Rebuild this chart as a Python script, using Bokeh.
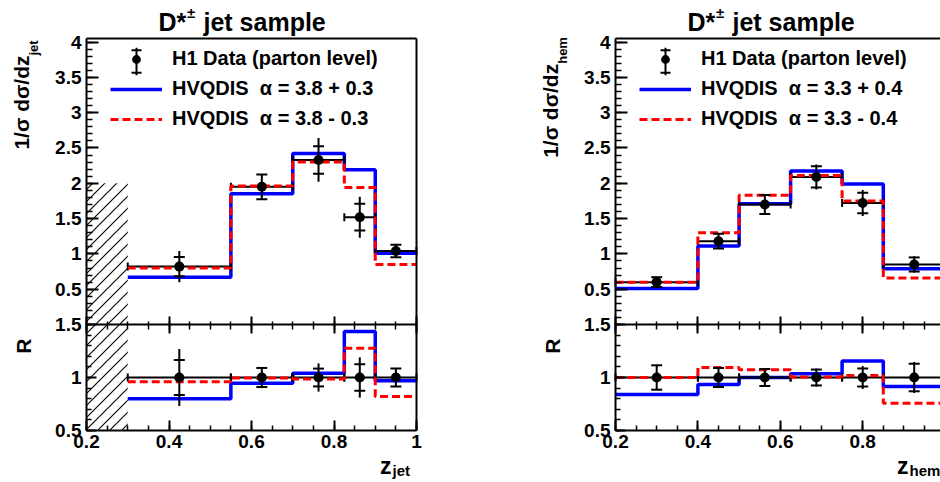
import base64
import numpy as np
from bokeh.plotting import figure
from bokeh.models import (Range1d, LinearAxis, FixedTicker, CustomJSTickFormatter,
                          Label, Legend, LegendItem, Arrow, ImageURLTexture)
from bokeh.core.properties import value
from bokeh.layouts import row
from bokeh.embed import file_html
from bokeh.resources import INLINE

# ---------------- z_jet panel data ----------------
jet_edges = [0.3, 0.55, 0.7, 0.825, 0.9, 1.0]
jet_data = [0.82, 1.95, 2.33, 1.52, 1.04]
jet_stat = [0.135, 0.175, 0.195, 0.19, 0.088]
jet_tot = [0.22, 0.175, 0.31, 0.29, 0.088]
jet_hvq_up = [0.67, 1.85, 2.42, 2.19, 1.01]      # alpha = 3.8 + 0.3
jet_hvq_dn = [0.80, 1.96, 2.30, 1.94, 0.85]      # alpha = 3.8 - 0.3
jet_r_up = [0.80, 0.945, 1.04, 1.435, 0.97]
jet_r_dn = [0.96, 0.995, 0.985, 1.275, 0.82]
jet_r_stat = [0.165, 0.09, 0.084, 0.125, 0.085]
jet_r_tot = [0.27, 0.09, 0.133, 0.19, 0.085]
jet_cut_lo = [0.2]
jet_cut_hi = [0.3]
jet_cut_top = [2.0]

# ---------------- z_hem panel data ----------------
hem_edges = [0.2, 0.4, 0.5, 0.625, 0.75, 0.85, 1.0]
hem_data = [0.60, 1.18, 1.70, 2.09, 1.72, 0.85]
hem_stat = [0.07, 0.105, 0.135, 0.15, 0.145, 0.10]
hem_tot = [0.07, 0.105, 0.135, 0.177, 0.185, 0.115]
hem_hvq_up = [0.51, 1.11, 1.71, 2.175, 1.99, 0.79]   # alpha = 3.3 + 0.4
hem_hvq_dn = [0.60, 1.30, 1.83, 2.11, 1.75, 0.66]    # alpha = 3.3 - 0.4
hem_r_up = [0.84, 0.935, 1.0, 1.035, 1.155, 0.915]
hem_r_dn = [1.0, 1.095, 1.072, 1.005, 1.02, 0.758]
hem_r_stat = [0.115, 0.09, 0.08, 0.075, 0.085, 0.13]
hem_r_tot = [0.12, 0.095, 0.08, 0.085, 0.108, 0.146]

# ---------------- axis ticks / panel limits ----------------
up_major = [0.5, 1.0, 1.5, 2.0, 2.5, 3.0, 3.5, 4.0]
up_minor = [round(0.1 * i, 2) for i in range(1, 41)]
r_major = [0.5, 1.0, 1.5]
r_minor = [round(0.5 + 0.1 * i, 2) for i in range(0, 11)]
x_major = [0.2, 0.4, 0.6, 0.8, 1.0]
x_minor = [round(0.2 + 0.05 * i, 3) for i in range(17)]
X_LO, X_HI = 0.2, 1.0
UP_LO, UP_HI = 0.0, 4.05
R_LO, R_HI = 0.5, 1.5

FONT = "Liberation Sans"
BLUE = "#0000ff"
RED = "#ff0000"

# canvas geometry (pixels)
H = 482
W = 470
F_TOP, F_MID, F_BOT = 38, 324, 430          # frame top, pad boundary, frame bottom
UP_PX = (F_MID - F_TOP) / (UP_HI - UP_LO)    # px per unit, upper pad
R_PX = (F_BOT - F_MID) / (R_HI - R_LO)       # px per unit, ratio pad
BASE_SHIFT = 0.34                            # label anchor -> baseline correction (em)

# 45-degree "/" hatch tile (ROOT style 3004)
_tile = ('<svg xmlns="http://www.w3.org/2000/svg" width="12" height="12">'
         '<path d="M0,12 L12,0 M-6,6 L6,-6 M6,18 L18,6" stroke="black" '
         'stroke-width="1.1" fill="none"/></svg>')
HATCH_URL = "data:image/svg+xml;base64," + base64.b64encode(_tile.encode()).decode()


def style_axis(ax, ticks, minor, tin, mtin, tout=0, mtout=0, show_labels=True, standoff=5):
    ax.ticker = FixedTicker(ticks=ticks, minor_ticks=minor)
    ax.formatter = CustomJSTickFormatter(code="return (+tick.toFixed(2)).toString();")
    ax.major_tick_in = tin
    ax.major_tick_out = tout
    ax.minor_tick_in = mtin
    ax.minor_tick_out = mtout
    ax.major_tick_line_width = 2
    ax.minor_tick_line_width = 1.5
    ax.major_tick_line_color = "black"
    ax.minor_tick_line_color = "black"
    ax.axis_line_width = 2
    ax.axis_line_color = "black"
    ax.major_label_text_font = FONT
    ax.major_label_text_font_style = "bold"
    ax.major_label_text_font_size = "19px"
    ax.major_label_text_color = "black"
    ax.major_label_standoff = standoff
    if not show_labels:
        ax.major_label_text_alpha = 0


def lab(p, x, y, text, size, align="left", rotated=False):
    """x, y: wanted baseline anchor (canvas px, y from bottom)."""
    if rotated:
        x = x - BASE_SHIFT * size
        angle = np.pi / 2
    else:
        y = y + BASE_SHIFT * size
        angle = 0.0
    p.add_layout(Label(x=x, y=y, x_units="screen", y_units="screen", text=text,
                       text_font=FONT, text_font_style="bold", text_font_size=f"{size}px",
                       text_align=align, text_baseline="alphabetic", angle=angle,
                       text_color="black"))


def make_panel(edges, data, stat, tot, hvq_up, hvq_dn, r_up, r_dn, r_stat, r_tot,
               sub, alpha_txt, fx, px_x, ylab_end, zlab_end,
               cut_lo=None, cut_hi=None, cut_top=None, right_edge=True):
    e = np.array(edges)
    lo_e, hi_e = e[:-1], e[1:]
    c = (lo_e + hi_e) / 2
    d = np.array(data)
    st = np.array(stat)
    tt = np.array(tot)
    rs = np.array(r_stat)
    rt = np.array(r_tot)
    ones = np.ones_like(d)

    # frame = whole canvas; pads are placed through the ranges
    xr = Range1d(X_LO - fx / px_x, X_LO + (W - fx) / px_x)
    yr = Range1d(UP_LO - (H - F_MID) / UP_PX, UP_LO + F_MID / UP_PX)
    p = figure(width=W, height=H, x_range=xr, y_range=yr,
               x_axis_type=None, y_axis_type=None,
               min_border_left=0, min_border_right=0, min_border_top=0, min_border_bottom=0,
               toolbar_location=None, output_backend="svg",
               background_fill_color="white", border_fill_color="white")
    p.outline_line_color = None
    p.extra_y_ranges = {"ratio": Range1d(R_HI - (H - F_MID) / R_PX, R_HI + F_MID / R_PX)}
    r_top = R_HI + (F_MID - F_TOP) / R_PX

    # axes (all at fixed locations)
    ax_up = LinearAxis(fixed_location=X_LO, bounds=(UP_LO, UP_HI))
    style_axis(ax_up, up_major, up_minor, 12, 6)
    p.add_layout(ax_up, "left")
    ax_r = LinearAxis(y_range_name="ratio", fixed_location=X_LO, bounds=(R_LO, R_HI))
    style_axis(ax_r, r_major, r_minor, 10, 5)
    p.add_layout(ax_r, "left")
    ax_x = LinearAxis(y_range_name="ratio", fixed_location=R_LO, bounds=(X_LO, X_HI))
    style_axis(ax_x, x_major, x_minor, 10, 5, standoff=4)
    p.add_layout(ax_x, "below")
    ax_mid = LinearAxis(fixed_location=UP_LO, bounds=(X_LO, X_HI))
    style_axis(ax_mid, x_major, x_minor, 8, 3, tout=9, mtout=5, show_labels=False)
    p.add_layout(ax_mid, "below")
    ax_top = LinearAxis(fixed_location=UP_HI, bounds=(X_LO, X_HI))
    style_axis(ax_top, [], [], 0, 0, show_labels=False)
    p.add_layout(ax_top, "above")
    if right_edge:
        ax_rt = LinearAxis(y_range_name="ratio", fixed_location=X_HI, bounds=(R_LO, r_top))
        style_axis(ax_rt, [], [], 0, 0, show_labels=False)
        p.add_layout(ax_rt, "right")

    # excluded region (45 degree hatch)
    if cut_lo is not None:
        hatch = dict(fill_color=None, line_color=None, hatch_pattern="/",
                     hatch_extra={"/": ImageURLTexture(url=HATCH_URL)},
                     hatch_color="black", hatch_weight=1, hatch_scale=12)
        p.quad(left=cut_lo, right=cut_hi, bottom=[UP_LO], top=cut_top, **hatch)
        p.quad(left=cut_lo, right=cut_hi, bottom=[R_LO], top=[R_HI],
               y_range_name="ratio", **hatch)

    # ---- upper: spectra ----
    blue = p.step(x=list(e), y=list(hvq_up) + [hvq_up[-1]], mode="after",
                  line_color=BLUE, line_width=3.5)
    p.segment(x0=lo_e, y0=d, x1=hi_e, y1=d, line_color="black", line_width=2)
    p.scatter(x=np.concatenate([lo_e, hi_e]), y=np.concatenate([d, d]), marker="dash",
              angle=np.pi / 2, size=8, line_color="black", line_width=2)
    red = p.step(x=list(e), y=list(hvq_dn) + [hvq_dn[-1]], mode="after",
                 line_color=RED, line_width=3, line_dash="8 4")
    p.segment(x0=c, y0=d - tt, x1=c, y1=d + tt, line_color="black", line_width=2)
    p.scatter(x=np.concatenate([c, c]), y=np.concatenate([d - st, d + st]), marker="dash",
              size=11, line_color="black", line_width=2)
    circ = p.scatter(x=c, y=d, marker="circle", size=10, fill_color="black", line_color=None)

    # ---- lower: ratios ----
    p.step(x=list(e), y=list(r_up) + [r_up[-1]], mode="after", line_color=BLUE,
           line_width=3.5, y_range_name="ratio")
    p.segment(x0=lo_e, y0=ones, x1=hi_e, y1=ones, line_color="black", line_width=2,
              y_range_name="ratio")
    p.scatter(x=np.concatenate([lo_e, hi_e]), y=np.concatenate([ones, ones]), marker="dash",
              angle=np.pi / 2, size=8, line_color="black", line_width=2, y_range_name="ratio")
    p.step(x=list(e), y=list(r_dn) + [r_dn[-1]], mode="after", line_color=RED,
           line_width=3, line_dash="8 4", y_range_name="ratio")
    p.segment(x0=c, y0=ones - rt, x1=c, y1=ones + rt, line_color="black", line_width=2,
              y_range_name="ratio")
    p.scatter(x=np.concatenate([c, c]), y=np.concatenate([ones - rs, ones + rs]),
              marker="dash", size=11, line_color="black", line_width=2, y_range_name="ratio")
    p.scatter(x=c, y=ones, marker="circle", size=10, fill_color="black", line_color=None,
              y_range_name="ratio")

    # ---- legend ----
    leg = Legend(items=[
        LegendItem(label=value("H1 Data (parton level)"), renderers=[circ]),
        LegendItem(label=value("HVQDIS\u00a0\u00a0\u03b1 = " + alpha_txt[0]), renderers=[blue]),
        LegendItem(label=value("HVQDIS\u00a0\u00a0\u03b1 = " + alpha_txt[1]), renderers=[red]),
    ], location=(fx + 24, 352), orientation="vertical", padding=0, margin=0, spacing=7,
        glyph_width=52, glyph_height=22, label_standoff=10, label_height=22,
        border_line_color=None, background_fill_alpha=0,
        label_text_font=FONT, label_text_font_style="bold", label_text_font_size="20px",
        label_text_color="black")
    p.add_layout(leg)
    # vertical error-bar symbol of the data legend entry
    yc = H - 61
    xc = fx + 50
    for (x0, y0, x1, y1) in [(xc, yc - 13.7, xc, yc + 13.7),
                             (xc - 5, yc - 11.3, xc + 5, yc - 11.3),
                             (xc - 5, yc + 11.3, xc + 5, yc + 11.3)]:
        p.add_layout(Arrow(start=None, end=None, x_start=x0, y_start=y0, x_end=x1, y_end=y1,
                           start_units="screen", end_units="screen",
                           line_color="black", line_width=2))

    # ---- texts (baseline positions) ----
    lab(p, fx + 72, H - 29.5, "D*", 25)
    lab(p, fx + 100.5, H - 17.5, "\u00b1", 15)
    lab(p, fx + 117, H - 29.5, "jet sample", 25)
    lab(p, fx - 58, H - ylab_end, "1/\u03c3 d\u03c3/dz", 21, align="right", rotated=True)
    lab(p, fx - 49, H - ylab_end, sub, 13, align="left", rotated=True)
    lab(p, fx - 56, H - 338, "R", 21, align="right", rotated=True)
    lab(p, fx + zlab_end, H - 473, "z", 23, align="right")
    lab(p, fx + zlab_end + 1, H - 475, sub, 15, align="left")
    return p


left = make_panel(jet_edges, jet_data, jet_stat, jet_tot, jet_hvq_up, jet_hvq_dn,
                  jet_r_up, jet_r_dn, jet_r_stat, jet_r_tot,
                  "jet", ("3.8 + 0.3", "3.8 - 0.3"), 86, 412.5, 55, 305,
                  cut_lo=jet_cut_lo, cut_hi=jet_cut_hi, cut_top=jet_cut_top, right_edge=True)
right = make_panel(hem_edges, hem_data, hem_stat, hem_tot, hem_hvq_up, hem_hvq_dn,
                   hem_r_up, hem_r_dn, hem_r_stat, hem_r_tot,
                   "hem", ("3.3 + 0.4", "3.3 - 0.4"), 145, 412.0, 63.3, 293,
                   right_edge=False)

layout = row(left, right)
open("out.html", "w").write(file_html(layout, INLINE, title="D* jet sample"))
